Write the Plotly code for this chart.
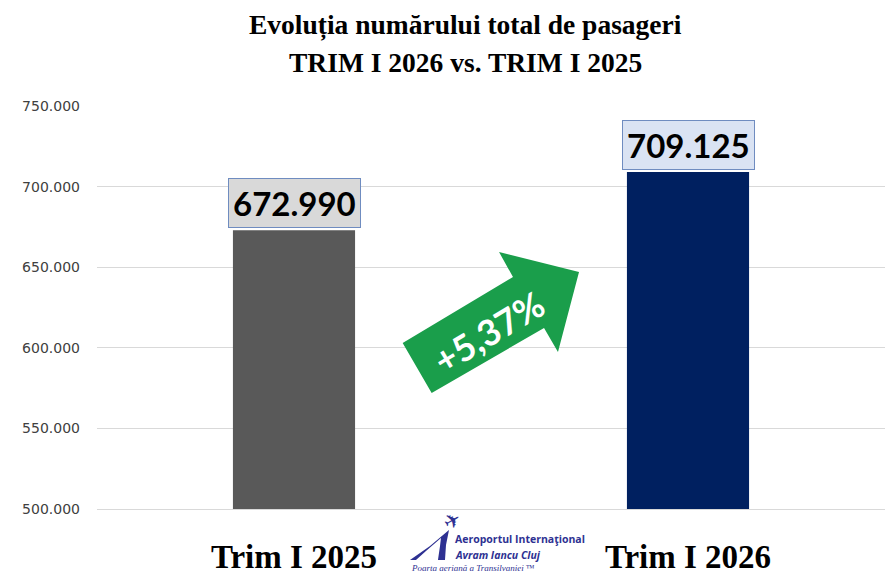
import plotly.graph_objects as go

# date
perioade = ['Trim I 2025', 'Trim I 2026']
pasageri = [672990, 709125]
culori_bare = ['#595959', '#002060']
fundal_etichete = ['#d9d9d9', '#dae3f3']
y_ticks = [500000, 550000, 600000, 650000, 700000, 750000]

crestere = (pasageri[1] / pasageri[0] - 1) * 100
text_crestere = '+' + f'{crestere:.2f}'.replace('.', ',') + '%'

# pagina are margine de 8px -> figura mai mica cu 8px
W, H, OFF = 896, 576, 8
# zona de plotare in pixeli (pentru forme decorative)
X0, X1, Y0, Y1 = 97, 885, 509, 106


def px(x, y):
    return (x - X0) / (X1 - X0), (Y0 - y) / (Y0 - Y1)


def path(puncte):
    s = ''
    for i, (x, y) in enumerate(puncte):
        a, b = px(x, y)
        s += ('M' if i == 0 else 'L') + f'{a:.4f},{b:.4f} '
    return s + 'Z'


def text(x, y, t, font, xanchor='center', **kw):
    a, b = px(x, y)
    fig.add_annotation(x=a, y=b, xref='paper', yref='paper', text=t,
                       showarrow=False, font=font, xanchor=xanchor,
                       yanchor='middle', **kw)


fig = go.Figure()
fig.add_trace(go.Bar(
    x=perioade,
    y=pasageri,
    marker=dict(color=culori_bare, line=dict(width=0)),
    width=0.31,
    hoverinfo='skip',
))

# etichete cu valori
for p, v, bg in zip(perioade, pasageri, fundal_etichete):
    fig.add_annotation(
        x=p, y=v, xref='x', yref='y',
        text=f'{v:,}'.replace(',', '.'),
        showarrow=False, yanchor='bottom', yshift=2,
        font=dict(family='Lato', size=33, color='black', weight='bold'),
        bgcolor=bg, bordercolor='#6f8cc0', borderwidth=1, borderpad=4,
    )

# titlu
text(465, 25, '<b>Evoluția numărului total de pasageri</b>',
     dict(family='Liberation Serif', size=27.5, color='black'))
text(465, 62, '<b>TRIM I 2026 vs. TRIM I 2025</b>',
     dict(family='Liberation Serif', size=27.5, color='black'))

# sageata verde
sageata = [(402.7, 343), (513, 277), (499, 252), (579, 272),
           (558, 352), (544, 328), (431.7, 393)]
fig.add_shape(type='path', xref='paper', yref='paper', path=path(sageata),
              fillcolor='#1a9e4b', line=dict(width=0), layer='above')
text(488, 332, text_crestere,
     dict(family='Lato', size=36, color='white', weight='bold'), textangle=-31)

# logo aeroport
albastru = '#2e3192'
fig.add_shape(type='path', xref='paper', yref='paper',
              path=path([(410, 560), (430, 546), (449, 530), (446, 545), (445, 560), (438, 560),
                         (440, 546), (441, 538), (426, 551), (416, 560)]),
              fillcolor=albastru, line=dict(width=0))
text(452, 521, '✈', dict(family='DejaVu Sans', size=20, color=albastru), textangle=-30)
text(453, 539, '<b>Aeroportul Internaţional</b>',
     dict(family='Open Sans', size=10.5, color=albastru), xanchor='left')
text(453, 555, '<b><i>Avram Iancu Cluj</i></b>',
     dict(family='Open Sans', size=10.5, color=albastru), xanchor='left')
text(409, 568, '<i>Poarta aeriană a Transilvaniei</i> ™',
     dict(family='Liberation Serif', size=9, color=albastru), xanchor='left')

fig.update_layout(
    width=W - OFF, height=H - OFF,
    margin=dict(l=X0 - OFF, r=W - X1, t=Y1 - OFF, b=H - Y0),
    plot_bgcolor='white', paper_bgcolor='white',
    separators=',.',
    showlegend=False,
)
fig.update_yaxes(
    range=[500000, 750000], tickvals=y_ticks, tickformat=',d',
    gridcolor='#d9d9d9', gridwidth=1, zeroline=False, showline=False,
    ticks='', ticklabelstandoff=16, automargin=False,
    tickfont=dict(family='DejaVu Sans', size=14, color='#404040'),
)
fig.update_xaxes(
    showline=True, linecolor='#d9d9d9', ticks='', ticklabelstandoff=18, automargin=False,
    tickfont=dict(family='Liberation Serif', size=33, color='black', weight='bold'),
)

fig.write_html('out.html')
